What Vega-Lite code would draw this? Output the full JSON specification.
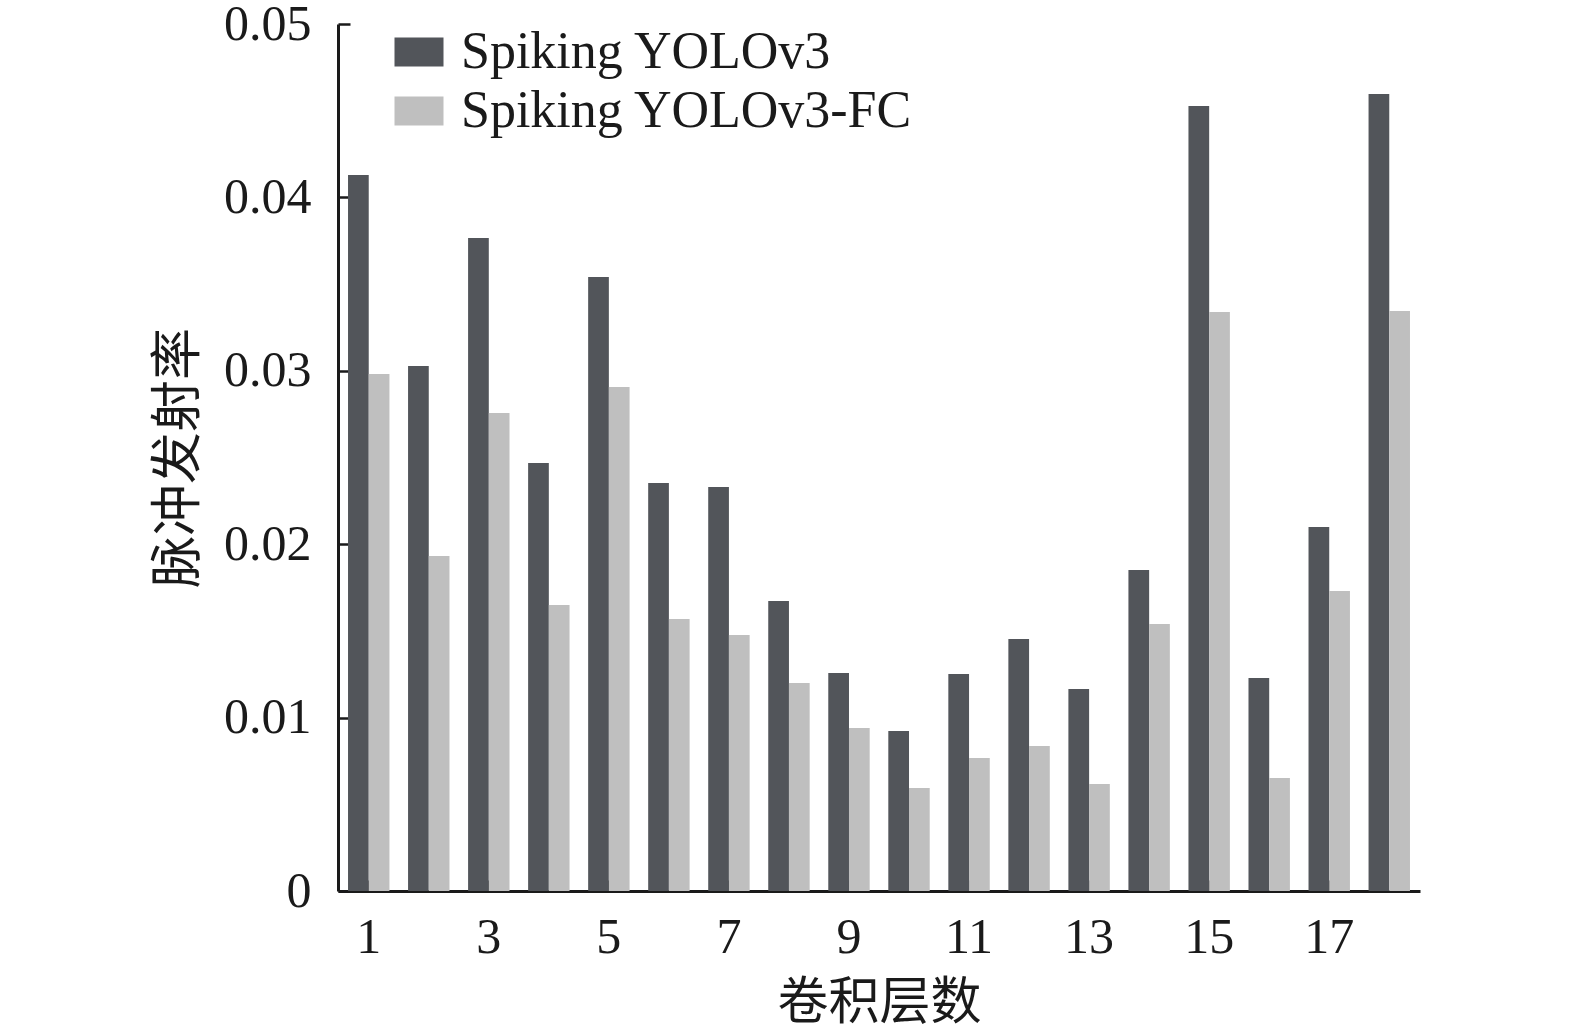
{
  "$schema": "https://vega.github.io/schema/vega-lite/v6.json",
  "width": 1082,
  "height": 867,
  "autosize": {"type": "none"},
  "padding": {"left": 338, "top": 24, "right": 155, "bottom": 141},
  "background": "white",
  "config": {"view": {"stroke": null}},
  "data": {
    "values": [
      {"layer": 1, "model": "Spiking YOLOv3", "rate": 0.04129},
      {"layer": 2, "model": "Spiking YOLOv3", "rate": 0.03028},
      {"layer": 3, "model": "Spiking YOLOv3", "rate": 0.03766},
      {"layer": 4, "model": "Spiking YOLOv3", "rate": 0.02468},
      {"layer": 5, "model": "Spiking YOLOv3", "rate": 0.03541},
      {"layer": 6, "model": "Spiking YOLOv3", "rate": 0.02353},
      {"layer": 7, "model": "Spiking YOLOv3", "rate": 0.0233},
      {"layer": 8, "model": "Spiking YOLOv3", "rate": 0.01672},
      {"layer": 9, "model": "Spiking YOLOv3", "rate": 0.01257},
      {"layer": 10, "model": "Spiking YOLOv3", "rate": 0.00923},
      {"layer": 11, "model": "Spiking YOLOv3", "rate": 0.01251},
      {"layer": 12, "model": "Spiking YOLOv3", "rate": 0.01453},
      {"layer": 13, "model": "Spiking YOLOv3", "rate": 0.01165},
      {"layer": 14, "model": "Spiking YOLOv3", "rate": 0.01851},
      {"layer": 15, "model": "Spiking YOLOv3", "rate": 0.04527},
      {"layer": 16, "model": "Spiking YOLOv3", "rate": 0.01228},
      {"layer": 17, "model": "Spiking YOLOv3", "rate": 0.02099},
      {"layer": 18, "model": "Spiking YOLOv3", "rate": 0.04596},
      {"layer": 1, "model": "Spiking YOLOv3-FC", "rate": 0.02982},
      {"layer": 2, "model": "Spiking YOLOv3-FC", "rate": 0.01932},
      {"layer": 3, "model": "Spiking YOLOv3-FC", "rate": 0.02757},
      {"layer": 4, "model": "Spiking YOLOv3-FC", "rate": 0.01649},
      {"layer": 5, "model": "Spiking YOLOv3-FC", "rate": 0.02907},
      {"layer": 6, "model": "Spiking YOLOv3-FC", "rate": 0.01569},
      {"layer": 7, "model": "Spiking YOLOv3-FC", "rate": 0.01476},
      {"layer": 8, "model": "Spiking YOLOv3-FC", "rate": 0.012},
      {"layer": 9, "model": "Spiking YOLOv3-FC", "rate": 0.0094},
      {"layer": 10, "model": "Spiking YOLOv3-FC", "rate": 0.00594},
      {"layer": 11, "model": "Spiking YOLOv3-FC", "rate": 0.00767},
      {"layer": 12, "model": "Spiking YOLOv3-FC", "rate": 0.00836},
      {"layer": 13, "model": "Spiking YOLOv3-FC", "rate": 0.00617},
      {"layer": 14, "model": "Spiking YOLOv3-FC", "rate": 0.0154},
      {"layer": 15, "model": "Spiking YOLOv3-FC", "rate": 0.03339},
      {"layer": 16, "model": "Spiking YOLOv3-FC", "rate": 0.00652},
      {"layer": 17, "model": "Spiking YOLOv3-FC", "rate": 0.0173},
      {"layer": 18, "model": "Spiking YOLOv3-FC", "rate": 0.03345}
    ]
  },
  "mark": {"type": "bar"},
  "encoding": {
    "x": {
      "field": "layer",
      "type": "ordinal",
      "scale": {"paddingInner": 0.31, "paddingOuter": 0.167},
      "axis": {
        "values": [1, 3, 5, 7, 9, 11, 13, 15, 17],
        "labelAngle": 0,
        "labelFont": "Liberation Serif",
        "labelFontSize": 50,
        "labelColor": "#1a1a1a",
        "labelPadding": 32,
        "tickSize": -11,
        "tickWidth": 2.5,
        "tickColor": "#1a1a1a",
        "domainColor": "#1a1a1a",
        "domainWidth": 3,
        "grid": false,
        "title": "卷积层数",
        "titleFont": "Noto Sans CJK SC",
        "titleFontSize": 51,
        "titleFontWeight": "normal",
        "titleColor": "#1a1a1a",
        "titlePadding": 16
      }
    },
    "xOffset": {"field": "model", "type": "nominal", "scale": {"paddingInner": 0}},
    "y": {
      "field": "rate",
      "type": "quantitative",
      "scale": {"domain": [0, 0.05], "nice": false, "zero": true},
      "axis": {
        "values": [0, 0.01, 0.02, 0.03, 0.04, 0.05],
        "format": ".2~f",
        "labelFont": "Liberation Serif",
        "labelFontSize": 50,
        "labelColor": "#1a1a1a",
        "labelPadding": 39,
        "tickSize": -12,
        "tickWidth": 2.5,
        "tickColor": "#1a1a1a",
        "domainColor": "#1a1a1a",
        "domainWidth": 3,
        "grid": false,
        "title": "脉冲发射率",
        "titleFont": "Noto Sans CJK SC",
        "titleFontSize": 52,
        "titleFontWeight": "normal",
        "titleColor": "#1a1a1a",
        "titlePadding": 18
      }
    },
    "color": {
      "field": "model",
      "type": "nominal",
      "scale": {"domain": ["Spiking YOLOv3", "Spiking YOLOv3-FC"], "range": ["#52555a", "#bfbfbf"]},
      "legend": {
        "title": null,
        "orient": "none",
        "legendX": 55,
        "legendY": 2,
        "symbolType": "M-1,-0.592H1V0.592H-1Z",
        "symbolSize": 2401,
        "symbolStrokeWidth": 0,
        "labelFont": "Liberation Serif",
        "labelFontSize": 52,
        "labelColor": "#1a1a1a",
        "labelLimit": 800,
        "labelOffset": 16,
        "rowPadding": 7
      }
    }
  }
}
